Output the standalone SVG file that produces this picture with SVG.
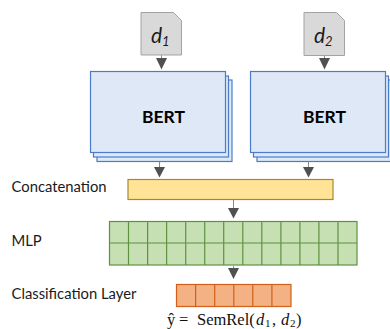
<svg xmlns="http://www.w3.org/2000/svg" width="390" height="329" viewBox="0 0 390 329">
<style>
.doc{fill:#d9d9d9;stroke:#a3a3a3;stroke-width:1}
.bert{fill:#dee8f6;stroke:#4a7ccb;stroke-width:1.2}
.cell-g{fill:#c6dfb3;stroke:#5f9240;stroke-width:1.2}
.cell-o{fill:#f4b183;stroke:#d0601a;stroke-width:1.2}
.lbl{font-family:Lato,"Liberation Sans",sans-serif;font-size:14.8px;fill:#1a1a1a}
.b{font-family:Lato,"Liberation Sans",sans-serif;font-size:17.5px;font-weight:700;fill:#000;text-anchor:middle}
.d{font-family:Lato,"Liberation Sans",sans-serif;font-size:21px;font-style:italic;fill:#1a1a1a}
.s{font-size:13px}
.m{font-family:"Liberation Serif","DejaVu Serif",serif;font-size:16.500px;fill:#111}
.ln{stroke:#8a8a8a;stroke-width:1;fill:none}
.ah{fill:#505050}
</style>
<g id="connectors">
<path class="ln" d="M161.500 55V60"/>
<polygon class="ah" points="156,58 167,58 161.500,69.500"/>
<path class="ln" d="M324.500 55V60"/>
<polygon class="ah" points="319,58 330,58 324.500,69.500"/>
<path class="ln" d="M159.500 161V168"/>
<polygon class="ah" points="154,167 165,167 159.500,177.500"/>
<path class="ln" d="M308.500 161V168"/>
<polygon class="ah" points="303,167 314,167 308.500,177.500"/>
<path class="ln" d="M233.500 200V210"/>
<polygon class="ah" points="228,208 239,208 233.500,218.500"/>
<path class="ln" d="M233.500 266V270"/>
<polygon class="ah" points="228,268 239,268 233.500,279"/>
</g>
<g id="doc1"><path class="doc" d="M141 12.500H173.500L181.500 20.500V55H141Z"/><text class="d" x="151" y="43">d<tspan class="s" dy="3">1</tspan></text></g>
<g id="doc2"><path class="doc" d="M304 12.500H336.500L344.500 20.500V55.500H304Z"/><text class="d" x="314" y="43">d<tspan class="s" dy="3">2</tspan></text></g>
<g id="bert1">
<rect class="bert" x="97" y="80" width="135" height="81.500"/>
<rect class="bert" x="93.500" y="76" width="135" height="81"/>
<rect class="bert" x="90.500" y="71.500" width="135" height="81"/>
<text class="b" x="163.500" y="122.500">BERT</text></g>
<g id="bert2">
<rect class="bert" x="257" y="80" width="135" height="81.500"/>
<rect class="bert" x="253.500" y="76" width="135" height="81"/>
<rect class="bert" x="250.500" y="71.500" width="135" height="81"/>
<text class="b" x="324.500" y="122.500">BERT</text></g>
<g id="concat"><rect x="128" y="179.500" width="205" height="20" fill="#ffe396" stroke="#a8882e" stroke-width="1.2"/></g>
<text class="lbl" x="11.500" y="192">Concatenation</text>
<g id="mlp">
<rect class="cell-g" x="109.500" y="221.500" width="247.500" height="43.500"/>
<path class="cell-g" fill="none" d="M109.500 243H357M128.500 221.500V265M147.600 221.500V265M166.600 221.500V265M185.700 221.500V265M204.700 221.500V265M223.700 221.500V265M242.800 221.500V265M261.800 221.500V265M280.900 221.500V265M299.900 221.500V265M318.900 221.500V265M338 221.500V265"/>
</g>
<text class="lbl" x="11.500" y="246">MLP</text>
<g id="classification">
<rect class="cell-o" x="176.500" y="284.500" width="114.500" height="22"/>
<path class="cell-o" d="M195.600 284.500V306.500M214.700 284.500V306.500M233.800 284.500V306.500M252.800 284.500V306.500M271.900 284.500V306.500"/>
</g>
<text class="lbl" x="11.500" y="299">Classification Layer</text>
<text class="m" y="325"><tspan x="167">ŷ</tspan><tspan x="179">=</tspan><tspan x="197">SemRel(</tspan><tspan x="256" font-style="italic">d</tspan><tspan x="265" font-size="11" dy="2">1</tspan><tspan x="272" dy="-2">,</tspan><tspan x="281" font-style="italic">d</tspan><tspan x="290" font-size="11" dy="2">2</tspan><tspan x="296" dy="-2">)</tspan></text>
</svg>
